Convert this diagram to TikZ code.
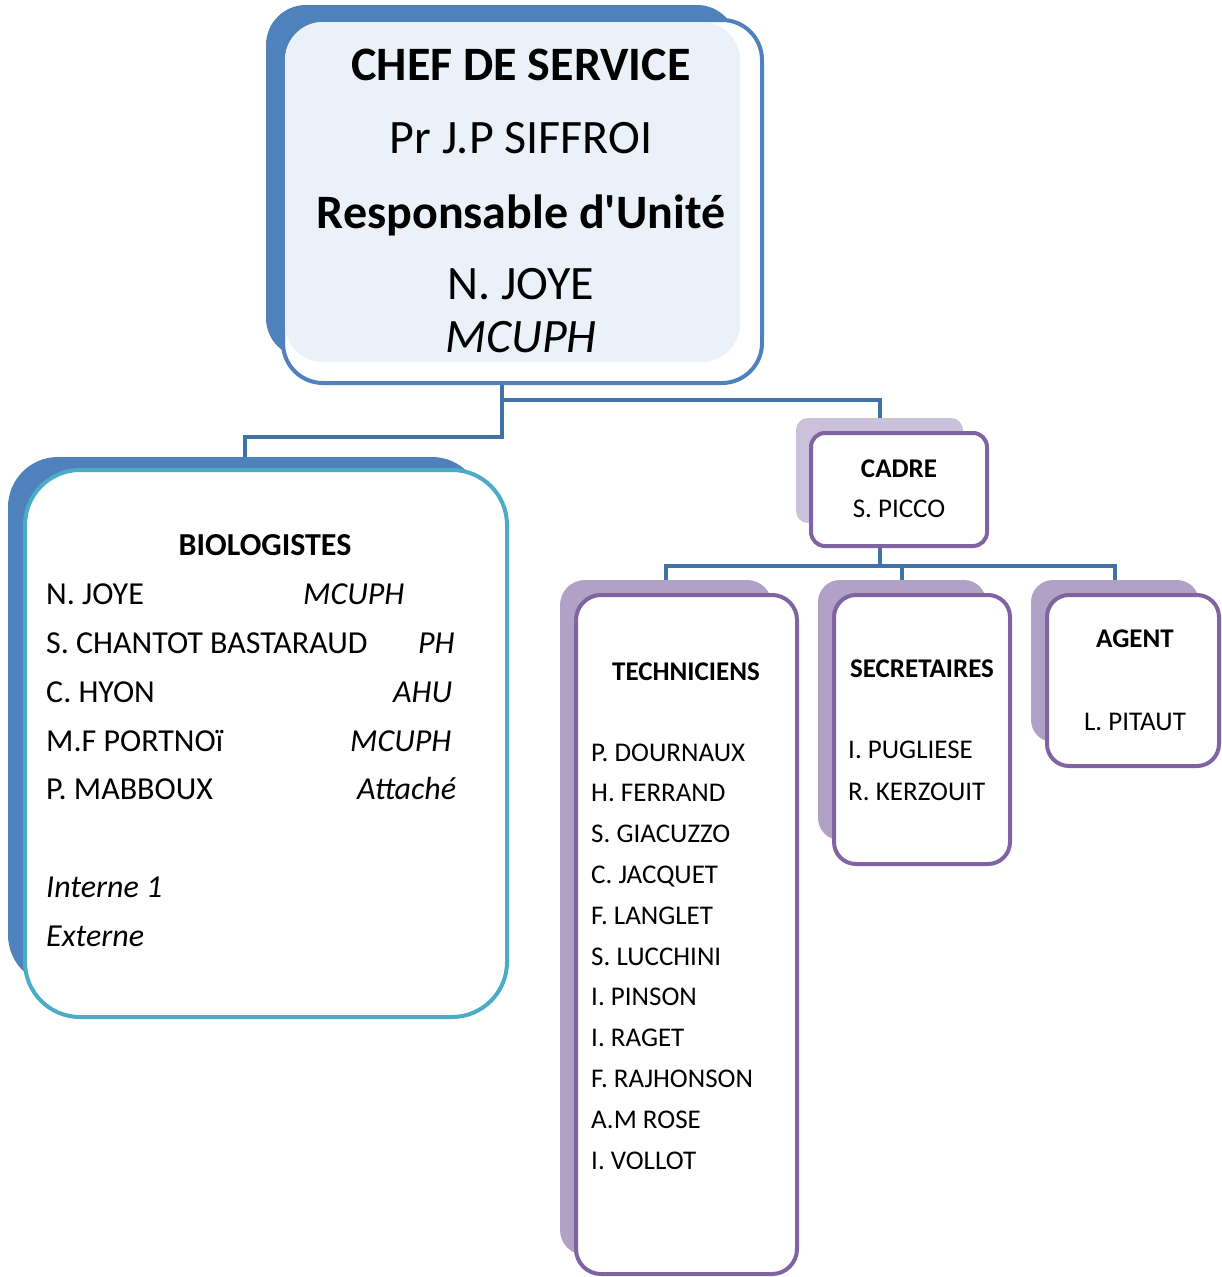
\documentclass[tikz,border=0pt]{standalone}
\usepackage{fontspec}
\setmainfont{Carlito}
\definecolor{orgblue}{RGB}{79,129,189}
\definecolor{orgline}{RGB}{65,113,165}
\definecolor{orglight}{RGB}{235,241,249}
\definecolor{orgteal}{RGB}{75,172,198}
\definecolor{orgpurple}{RGB}{128,100,162}
\definecolor{orglilac}{RGB}{178,161,199}
\definecolor{orgpale}{RGB}{204,193,218}

\begin{document}
\begin{tikzpicture}[x=1pt,y=-1pt,
  shade/.style={inner sep=0pt},
  box/.style={draw,inner sep=0pt,line width=4pt,fill=white},
  conn/.style={draw=orgline,line width=4pt},
  big/.style={font=\fontsize{48}{56}\selectfont},
  mid/.style={font=\fontsize{32}{36}\selectfont},
  small/.style={font=\fontsize{27}{30}\selectfont}
]
  \useasboundingbox (0,0) rectangle (1221,1277);
  % Shadows behind the boxes
  \node[shade,fill=orgblue,rounded corners=40pt,minimum width=471pt,minimum height=353pt] (chiefsh) at (501.5,181.5) {};
  \node[shade,fill=orgblue,rounded corners=50pt,minimum width=474pt,minimum height=528pt] (biosh) at (245,721) {};
  \node[shade,fill=orgpale,rounded corners=12pt,minimum width=167pt,minimum height=105pt] (cadresh) at (879.5,470.5) {};
  \node[shade,fill=orglilac,rounded corners=25pt,minimum width=212pt,minimum height=675pt] (techsh) at (666,917.5) {};
  \node[shade,fill=orglilac,rounded corners=22pt,minimum width=168pt,minimum height=260pt] (secsh) at (902,710) {};
  \node[shade,fill=orglilac,rounded corners=22pt,minimum width=168pt,minimum height=162pt] (agentsh) at (1115,661) {};
  % Connectors
  \draw[conn] (chiefsh.south) -- ++(0,79) -| (biosh.north);
  \draw[conn] (chiefsh.south) -- ++(0,42) -| (cadresh.north);
  \draw[conn] (cadresh.south) -- ++(0,43) -| (techsh.north);
  \draw[conn] (cadresh.south) -- ++(0,43) -| (secsh.north);
  \draw[conn] (cadresh.south) -- ++(0,43) -| (agentsh.north);
  % Front boxes
  \node[box,draw=orgblue,rounded corners=40pt,minimum width=479pt,minimum height=363pt] (chief) at (522.5,201.5) {};
  \node[shade,fill=orglight,rounded corners=38pt,minimum width=455pt,minimum height=340pt] (chieffill) at (512.5,192) {};
  \node[box,draw=orgteal,rounded corners=55pt,minimum width=482pt,minimum height=547pt] (bio) at (266,743.5) {};
  \node[box,draw=orgpurple,rounded corners=14pt,minimum width=176pt,minimum height=113pt] (cadre) at (899,489.5) {};
  \node[box,draw=orgpurple,rounded corners=25pt,minimum width=221pt,minimum height=679pt] (tech) at (686.5,934.5) {};
  \node[box,draw=orgpurple,rounded corners=22pt,minimum width=176pt,minimum height=269pt] (sec) at (922,729.5) {};
  \node[box,draw=orgpurple,rounded corners=22pt,minimum width=172pt,minimum height=171pt] (agent) at (1133,680.5) {};
  % Chef de service
  \node[big,anchor=base] (chiefA) at (521,80) {\bfseries CHEF DE SERVICE};
  \node[big,anchor=base] (chiefB) at (521,153) {Pr J.P SIFFROI};
  \node[big,anchor=base] (chiefC) at (521,228) {\bfseries Responsable d\textquotesingle Unité};
  \node[big,anchor=base] (chiefD) at (521,299) {N. JOYE};
  \node[big,anchor=base] (chiefE) at (521,352) {\itshape MCUPH};
  % Biologistes
  \node[mid,anchor=base] (bioT) at (265,555) {\bfseries BIOLOGISTES};
  \node[mid,anchor=base west,inner sep=0pt] (bio1) at (46,604) {N. JOYE};
  \node[mid,anchor=base west,inner sep=0pt] (bio1r) at (303,604) {\itshape MCUPH};
  \node[mid,anchor=base west,inner sep=0pt] (bio2) at (46,653) {S. CHANTOT BASTARAUD};
  \node[mid,anchor=base west,inner sep=0pt] (bio2r) at (418,653) {\itshape PH};
  \node[mid,anchor=base west,inner sep=0pt] (bio3) at (46,702) {C. HYON};
  \node[mid,anchor=base west,inner sep=0pt] (bio3r) at (393,702) {\itshape AHU};
  \node[mid,anchor=base west,inner sep=0pt] (bio4) at (46,751) {M.F PORTNOï};
  \node[mid,anchor=base west,inner sep=0pt] (bio4r) at (350,751) {\itshape MCUPH};
  \node[mid,anchor=base west,inner sep=0pt] (bio5) at (46,799) {P. MABBOUX};
  \node[mid,anchor=base west,inner sep=0pt] (bio5r) at (357,799) {\itshape Attaché};
  \node[mid,anchor=base west,inner sep=0pt] (bio6) at (46,897) {\itshape Interne 1};
  \node[mid,anchor=base west,inner sep=0pt] (bio7) at (46,946) {\itshape Externe};
  % Cadre
  \node[small,anchor=base] (cadreT) at (899,477) {\bfseries CADRE};
  \node[small,anchor=base] (cadreN) at (899,517) {S. PICCO};
  % Techniciens
  \node[small,anchor=base] (techT) at (686,680) {\bfseries TECHNICIENS};
  \foreach \nm [count=\i from 0] in {P. DOURNAUX,H. FERRAND,S. GIACUZZO,C. JACQUET,F. LANGLET,S. LUCCHINI,I. PINSON,I. RAGET,F. RAJHONSON,A.M ROSE,I. VOLLOT}
    \node[small,anchor=base west,inner sep=0pt] (tech\i) at (591,761+40.8*\i) {\nm};
  % Secretaires
  \node[small,anchor=base] (secT) at (922,677) {\bfseries SECRETAIRES};
  \node[small,anchor=base west,inner sep=0pt] (sec1) at (848,758) {I. PUGLIESE};
  \node[small,anchor=base west,inner sep=0pt] (sec2) at (848,800) {R. KERZOUIT};
  % Agent
  \node[small,anchor=base] (agentT) at (1135,647) {\bfseries AGENT};
  \node[small,anchor=base] (agentN) at (1135,730) {L. PITAUT};
\end{tikzpicture}
\end{document}
